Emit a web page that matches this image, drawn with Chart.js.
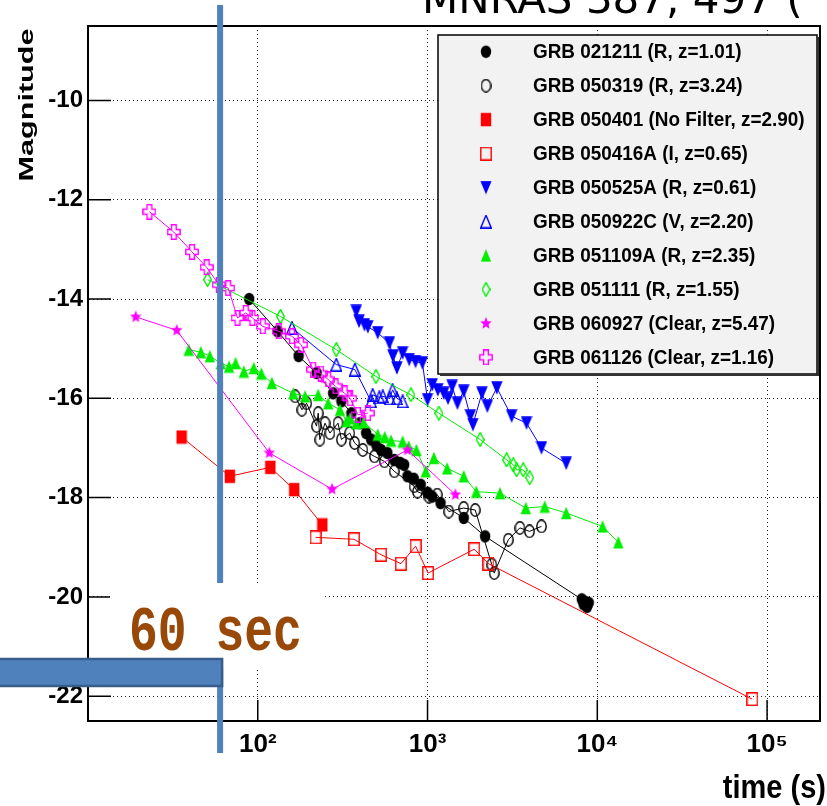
<!DOCTYPE html>
<html>
<head>
<meta charset="utf-8">
<script src="https://cdn.jsdelivr.net/npm/chart.js@4.4.1/dist/chart.umd.min.js"></script>
<style>
  html, body { margin: 0; padding: 0; background: #fff; }
  #wrap { width: 827px; height: 806px; }
</style>
</head>
<body>
<div id="wrap"><canvas id="c" width="827" height="806"></canvas></div>
<script>
// --- data (time in s, magnitude) ---
const grbLabels = [
  'GRB 021211 (R, z=1.01)',
  'GRB 050319 (R, z=3.24)',
  'GRB 050401 (No Filter, z=2.90)',
  'GRB 050416A (I, z=0.65)',
  'GRB 050525A (R, z=0.61)',
  'GRB 050922C (V, z=2.20)',
  'GRB 051109A (R, z=2.35)',
  'GRB 051111 (R, z=1.55)',
  'GRB 060927 (Clear, z=5.47)',
  'GRB 061126 (Clear, z=1.16)'
];

const t021211 = [89, 131, 174, 222, 278, 311, 356, 400, 435, 465, 500, 532, 580, 637, 690, 728, 762, 830, 912, 1000, 1066, 1193, 1633, 2183, 8100, 8300, 8500, 8700, 8900];
const m021211 = [-14.0, -14.65, -15.15, -15.49, -15.9, -16.06, -16.3, -16.5, -16.7, -16.83, -16.95, -17.04, -17.1, -17.24, -17.3, -17.34, -17.57, -17.62, -17.74, -17.9, -17.98, -18.11, -18.41, -18.78, -20.05, -20.15, -20.1, -20.2, -20.12];

const t050319 = [166, 182, 194, 222, 227, 232, 249, 266, 297, 311, 348, 372, 416, 487, 557, 637, 834, 872, 1020, 1140, 1333, 1633, 1909, 2390, 2470, 2990, 3500, 3985, 4690];
const m050319 = [-15.96, -16.23, -16.1, -16.56, -16.3, -16.83, -16.5, -16.7, -16.5, -16.83, -16.7, -16.9, -17.04, -17.17, -17.27, -17.47, -17.77, -17.88, -17.98, -17.94, -18.28, -18.21, -18.25, -19.35, -19.52, -18.85, -18.61, -18.68, -18.58];

const t050401 = [35.6, 68.5, 118.6, 164, 240];
const m050401 = [-16.78, -17.57, -17.39, -17.84, -18.55];

const t050416A = [219, 369, 532, 697, 851, 1007, 1884, 2285, 81800];
const m050416A = [-18.8, -18.84, -19.15, -19.33, -18.98, -19.52, -19.04, -19.33, -22.06];

const t050525A = [380, 395, 425, 445, 509, 596, 625, 660, 713, 780, 850, 933, 1000, 1066, 1150, 1247, 1320, 1396, 1500, 1633, 1786, 1850, 2090, 2250, 2560, 3130, 3830, 4690, 6560];
const m050525A = [-14.25, -14.45, -14.52, -14.56, -14.68, -14.89, -15.15, -15.39, -15.09, -15.22, -15.26, -15.29, -16.03, -15.73, -15.83, -15.9, -16.0, -15.76, -16.1, -15.86, -16.36, -16.53, -15.9, -16.16, -15.79, -16.36, -16.5, -17.0, -17.31];

const t050922C = [159, 290, 373, 465, 475, 520, 545, 600, 622, 660, 713];
const m050922C = [-14.58, -15.32, -15.42, -16.06, -15.93, -15.98, -15.96, -16.0, -15.83, -16.0, -16.06];

const t051109A = [39.2, 46.2, 52.2, 60.5, 67.7, 74, 82.8, 94.7, 105, 121, 162, 190, 227, 260, 305, 333, 350, 380, 420, 509, 560, 610, 713, 775, 860, 976, 1090, 1305, 1633, 1937, 2672, 3790, 4900, 6560, 10740, 13300];
const m051109A = [-15.02, -15.07, -15.15, -15.29, -15.36, -15.29, -15.46, -15.39, -15.5, -15.69, -15.9, -15.96, -15.93, -16.1, -16.23, -16.46, -16.4, -16.5, -16.48, -16.73, -16.78, -16.85, -16.87, -16.97, -17.04, -17.47, -17.2, -17.41, -17.57, -17.88, -17.91, -18.21, -18.18, -18.31, -18.58, -18.9];

const t051111 = [50.6, 136, 290, 497, 798, 1167, 2040, 2925, 3200, 3350, 3660, 4000];
const m051111 = [-13.61, -14.35, -15.02, -15.56, -15.93, -16.3, -16.83, -17.24, -17.34, -17.44, -17.44, -17.6];

const t060927 = [19.1, 33.3, 117, 274, 762, 1459];
const m060927 = [-14.36, -14.63, -17.1, -17.83, -17.04, -17.94];

const t061126 = [23, 32, 41, 50, 59, 67, 76, 85, 93, 107, 133, 159, 180, 212, 235, 260, 287, 325, 350, 389, 445];
const m061126 = [-12.24, -12.65, -13.05, -13.36, -13.71, -13.78, -14.38, -14.28, -14.38, -14.55, -14.65, -14.75, -14.92, -15.42, -15.5, -15.62, -15.76, -15.9, -16.0, -16.33, -16.3];

const xDecades = [100, 1000, 10000, 100000];
const xTickLabels = ['10\u00b2', '10\u00b3', '10\u2074', '10\u2075'];
const yTickValues = [-22, -20, -18, -16, -14, -12, -10];
const yTickLabels = ['-22', '-20', '-18', '-16', '-14', '-12', '-10'];
const markTime = 60; // "60 sec" marker

// --- marker images ---
function makeMarker(kind, color, w, h) {
  const c = document.createElement('canvas');
  c.width = w; c.height = h;
  const g = c.getContext('2d');
  g.fillStyle = color; g.strokeStyle = color; g.lineWidth = 1.4;
  const cx = w / 2, cy = h / 2;
  g.beginPath();
  if (kind === 'circle' || kind === 'ocircle') {
    g.ellipse(cx, cy, w / 2 - 0.8, h / 2 - 0.8, 0, 0, Math.PI * 2);
  } else if (kind === 'square' || kind === 'osquare') {
    g.rect(0.8, 0.8, w - 1.6, h - 1.6);
  } else if (kind === 'down') {
    g.moveTo(0.3, 0.3); g.lineTo(w - 0.3, 0.3); g.lineTo(cx, h - 0.3); g.closePath();
  } else if (kind === 'up' || kind === 'oup') {
    g.moveTo(cx, 0.8); g.lineTo(w - 0.8, h - 0.8); g.lineTo(0.8, h - 0.8); g.closePath();
  } else if (kind === 'odiamond') {
    g.moveTo(cx, 0.7); g.lineTo(w - 0.7, cy); g.lineTo(cx, h - 0.7); g.lineTo(0.7, cy); g.closePath();
  } else if (kind === 'star') {
    for (let i = 0; i < 10; i++) {
      const r = i % 2 === 0 ? w / 2 : w / 4.5;
      const a = -Math.PI / 2 + i * Math.PI / 5;
      const px = cx + r * Math.cos(a), py = cy + r * Math.sin(a) * (h / w);
      if (i === 0) g.moveTo(px, py); else g.lineTo(px, py);
    }
    g.closePath();
  } else if (kind === 'ocross') {
    const a = w * 0.34, b = h * 0.32;
    g.moveTo(cx - a / 2, 0.8); g.lineTo(cx + a / 2, 0.8); g.lineTo(cx + a / 2, cy - b / 2);
    g.lineTo(w - 0.8, cy - b / 2); g.lineTo(w - 0.8, cy + b / 2); g.lineTo(cx + a / 2, cy + b / 2);
    g.lineTo(cx + a / 2, h - 0.8); g.lineTo(cx - a / 2, h - 0.8); g.lineTo(cx - a / 2, cy + b / 2);
    g.lineTo(0.8, cy + b / 2); g.lineTo(0.8, cy - b / 2); g.lineTo(cx - a / 2, cy - b / 2);
    g.closePath();
  }
  if (kind.startsWith('o')) g.stroke(); else g.fill();
  return c;
}

const styles = [
  { color: '#000000', img: makeMarker('circle', '#000000', 12, 14) },
  { color: '#000000', img: makeMarker('ocircle', '#000000', 11, 14) },
  { color: '#ff0000', img: makeMarker('square', '#ff0000', 12, 15) },
  { color: '#ff0000', img: makeMarker('osquare', '#ff0000', 12, 14) },
  { color: '#0000ff', img: makeMarker('down', '#0000ff', 12, 14) },
  { color: '#0000ff', img: makeMarker('oup', '#0000ff', 12, 14) },
  { color: '#00ee00', img: makeMarker('up', '#00ee00', 12, 14) },
  { color: '#00ee00', img: makeMarker('odiamond', '#00ee00', 9, 15) },
  { color: '#ff00ff', img: makeMarker('star', '#ff00ff', 12, 13) },
  { color: '#ff00ff', img: makeMarker('ocross', '#ff00ff', 14, 16) }
];

const series = [
  [t021211, m021211], [t050319, m050319], [t050401, m050401], [t050416A, m050416A],
  [t050525A, m050525A], [t050922C, m050922C], [t051109A, m051109A], [t051111, m051111],
  [t060927, m060927], [t061126, m061126]
];

const datasets = series.map(([t, m], i) => ({
  label: grbLabels[i],
  data: t.map((x, k) => ({ x, y: m[k] })),
  showLine: true,
  borderColor: styles[i].color,
  borderWidth: 1,
  pointStyle: styles[i].img,
  pointRadius: 6,
  order: 10 - i
}));

// minor ticks on the log axis: 1..9 x each decade
const xAllTicks = [];
[10, 100, 1000, 10000, 100000].forEach(d => {
  for (let k = 1; k <= 9; k++) if (k * d <= 205000) xAllTicks.push(k * d);
});

const BOLD = '"Liberation Sans", Arial, sans-serif';

const decorations = {
  id: 'decorations',
  afterDraw(chart) {
    const ctx = chart.ctx;
    const area = chart.chartArea;
    const xs = chart.scales.x, ys = chart.scales.y;
    ctx.save();

    // frame top/right
    ctx.strokeStyle = '#000'; ctx.lineWidth = 2;
    ctx.beginPath();
    ctx.moveTo(area.left, area.top); ctx.lineTo(area.right, area.top); ctx.lineTo(area.right, area.bottom);
    ctx.stroke();

    // inward ticks
    ctx.lineWidth = 1.5;
    ctx.beginPath();
    ys.ticks.forEach(tk => {
      const py = ys.getPixelForValue(tk.value);
      const len = yTickValues.includes(tk.value) ? 23 : 12;
      ctx.moveTo(area.left, py); ctx.lineTo(area.left + len, py);
    });
    xs.ticks.forEach(tk => {
      const px = xs.getPixelForValue(tk.value);
      const len = xDecades.includes(tk.value) ? 21 : 11;
      ctx.moveTo(px, area.bottom); ctx.lineTo(px, area.bottom - len);
    });
    ctx.stroke();

    // legend
    const lx = 438, ly = 35, lw = 379, lh = 339;
    ctx.fillStyle = '#f2f2f2';
    ctx.fillRect(lx, ly, lw, lh);
    ctx.strokeStyle = '#000'; ctx.lineWidth = 1.5;
    ctx.strokeRect(lx, ly, lw, lh);
    ctx.fillStyle = '#333';
    ctx.fillRect(lx + lw, ly + 2, 2, lh);
    ctx.fillRect(lx + 2, ly + lh, lw, 2);
    ctx.textAlign = 'left';
    chart.data.datasets.forEach((ds, i) => {
      const ry = 51.7 + i * 33.96;
      const img = ds.pointStyle;
      ctx.drawImage(img, 486 - img.width / 2, ry - img.height / 2);
      ctx.save();
      ctx.translate(533, ry + 1);
      ctx.scale(0.9, 1);
      ctx.fillStyle = '#000';
      ctx.textBaseline = 'middle';
      ctx.font = 'bold 21px ' + BOLD;
      ctx.fillText(ds.label, 0, 0);
      ctx.restore();
    });

    // axis titles
    ctx.fillStyle = '#000';
    ctx.save();
    ctx.translate(27, 105);
    ctx.rotate(-Math.PI / 2);
    ctx.font = 'bold 21px ' + BOLD;
    const mw = ctx.measureText('Magnitude').width;
    ctx.scale(153 / mw, 1);
    ctx.textAlign = 'center'; ctx.textBaseline = 'middle';
    ctx.fillText('Magnitude', 0, 0);
    ctx.restore();

    ctx.textBaseline = 'alphabetic';
    ctx.save();
    ctx.translate(826, 798);
    ctx.scale(1, 1.12);
    ctx.font = 'bold 29px ' + BOLD;
    ctx.textAlign = 'right';
    ctx.fillText('time (s)', 0, 0);
    ctx.restore();

    // cut-off reference title
    ctx.font = '42px "DejaVu Sans", sans-serif';
    ctx.textAlign = 'left';
    ctx.fillText('MNRAS 387, 497 (', 422, 13);

    // 60 sec annotation
    const mx = xs.getPixelForValue(markTime);
    ctx.fillStyle = '#4f81bd';
    ctx.fillRect(mx - 3, 5, 6, 748);
    ctx.fillStyle = '#ffffff';
    ctx.fillRect(110, 583, 215, 84);
    ctx.save();
    ctx.translate(129, 650);
    ctx.scale(1, 1.3);
    ctx.fillStyle = '#984807';
    ctx.font = 'bold 48px "Liberation Mono", "Courier New", monospace';
    ctx.fillText('60 sec', 0, 0);
    ctx.restore();
    ctx.fillStyle = '#4f81bd';
    ctx.fillRect(-2, 659, mx + 4, 27);
    ctx.strokeStyle = '#385d8a'; ctx.lineWidth = 2.5;
    ctx.strokeRect(-2, 659, mx + 4, 27);

    ctx.restore();
  }
};

new Chart(document.getElementById('c'), {
  type: 'scatter',
  data: { datasets },
  options: {
    responsive: false,
    animation: false,
    events: [],
    layout: { padding: { top: 26, right: 1, left: 0, bottom: 0 } },
    plugins: { legend: { display: false }, tooltip: { enabled: false } },
    scales: {
      x: {
        type: 'logarithmic',
        min: 10, max: 205000,
        afterFit: s => { s.height = 85; },
        afterBuildTicks: s => { s.ticks = xAllTicks.map(v => ({ value: v })); },
        border: { color: '#000', width: 2, dash: [1, 3] },
        grid: { color: '#222', lineWidth: 1, drawTicks: false },
        ticks: {
          autoSkip: false, maxRotation: 0, padding: 8,
          color: '#000', font: { family: BOLD, size: 26, weight: 'bold' },
          callback: v => { const k = xDecades.indexOf(v); return k >= 0 ? xTickLabels[k] : null; }
        }
      },
      y: {
        type: 'linear',
        min: -22.5, max: -8.5,
        afterFit: s => { s.width = 88; },
        border: { color: '#000', width: 2, dash: [1, 3] },
        grid: { color: '#222', lineWidth: 1, drawTicks: false },
        ticks: {
          stepSize: 0.5, autoSkip: false, padding: 5,
          color: '#000', font: { family: BOLD, size: 24, weight: 'bold' },
          callback: v => { const k = yTickValues.indexOf(v); return k >= 0 ? yTickLabels[k] : null; }
        }
      }
    }
  },
  plugins: [decorations]
});
</script>
</body>
</html>
